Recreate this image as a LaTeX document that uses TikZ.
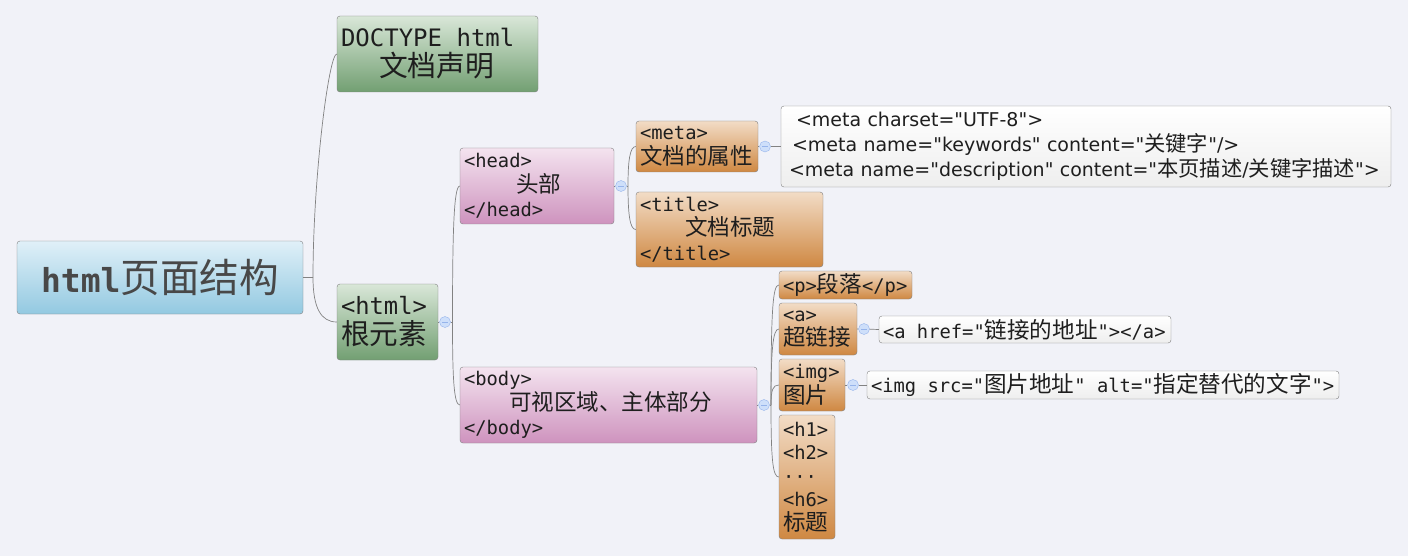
\documentclass[tikz,border=0pt]{standalone}
\usepackage{fontspec}
\setmainfont{DejaVu Sans}
\setmonofont{DejaVu Sans Mono}
\newfontfamily\notefont{DejaVu Sans}
\newfontfamily\cjkfont{Noto Sans CJK SC}[Scale=1.2]
\newfontfamily\cjksmall{Noto Sans CJK SC}[Scale=1.12]
\newcommand{\zh}[1]{{\cjkfont #1}}
\newcommand{\zhn}[1]{{\cjksmall #1}}
\newcommand{\tsp}{\hspace{0.602em}}% 等幅の空白
\definecolor{bg}{RGB}{241,242,248}
\definecolor{edge}{RGB}{128,128,128}
\definecolor{ink}{RGB}{30,30,30}
\definecolor{rootink}{RGB}{72,72,72}
\definecolor{rootT}{RGB}{224,240,248}
\definecolor{rootB}{RGB}{147,201,225}
\definecolor{greenT}{RGB}{217,231,216}
\definecolor{greenB}{RGB}{114,159,114}
\definecolor{pinkT}{RGB}{244,227,239}
\definecolor{pinkB}{RGB}{206,147,190}
\definecolor{orangeT}{RGB}{242,220,198}
\definecolor{orangeB}{RGB}{207,136,66}
\definecolor{noteB}{RGB}{238,238,238}
\definecolor{linkc}{RGB}{130,130,130}
\definecolor{foldF}{RGB}{206,223,250}
\definecolor{foldD}{RGB}{150,180,235}
\tikzset{
  topic/.style={draw=edge, rounded corners=3pt, inner xsep=4pt, inner ysep=0pt,
    align=left, text=ink, font=\ttfamily\fontsize{18.8}{24.5}\selectfont},
  rootbox/.style={topic, top color=rootT, bottom color=rootB, align=center, text=rootink,
    font=\ttfamily\fontsize{33}{36}\selectfont, minimum width=286pt, minimum height=73pt},
  greenbox/.style={topic, top color=greenT, bottom color=greenB},
  pinkbox/.style={topic, top color=pinkT, bottom color=pinkB},
  orangebox/.style={topic, top color=orangeT, bottom color=orangeB},
  notebox/.style={topic, top color=white, bottom color=noteB},
  link/.style={draw=linkc, line width=0.7pt},
  fold/.style={circle, draw=foldD, fill=foldF, minimum size=11pt, inner sep=0pt,
    path picture={\draw[foldD, line width=0.8pt]
      ([xshift=-3pt]path picture bounding box.center) -- ([xshift=3pt]path picture bounding box.center);}},
}
\begin{document}
\begin{tikzpicture}[x=1pt,y=-1pt]
  \fill[bg] (0,0) rectangle (1408,556);
  \useasboundingbox (0,0) rectangle (1408,556);
  % 中心トピック
  \node[rootbox] (root) at (160,277.5) {{\bfseries html}\zh{页面结构}};
  \node[greenbox, font=\ttfamily\fontsize{24}{30}\selectfont, text width=193pt, minimum height=76pt]
    (doctype) at (437.5,54) {DOCTYPE\tsp html\\\hspace*{38pt}\zh{文档声明}};
  \node[greenbox, font=\ttfamily\fontsize{23.8}{30}\selectfont, text width=93pt, minimum height=76pt]
    (html) at (387.5,322) {<html>\\\zh{根元素}};
  % head / body
  \node[pinkbox, text width=146pt, minimum height=76pt] (head) at (537,186)
    {<head>\\\hspace*{52pt}\zh{头部}\\</head>};
  \node[pinkbox, text width=289pt, minimum height=76pt] (body) at (608.5,405)
    {<body>\\\hspace*{45pt}\zh{可视区域、主体部分}\\</body>};
  % headの子
  \node[orangebox, text width=114pt, minimum height=51pt] (meta) at (697,146.5)
    {<meta>\\\zh{文档的属性}};
  \node[orangebox, text width=179pt, minimum height=75pt] (title) at (729.5,229.5)
    {<title>\\\hspace*{45pt}\zh{文档标题}\\</title>};
  \node[notebox, font=\notefont\fontsize{19}{25}\selectfont, text width=600pt, inner xsep=5pt, minimum height=81pt]
    (metanote) at (1086,146.5)
    {\hspace*{10pt}<meta charset="UTF-8">\\
     \hspace*{6pt}<meta name="keywords" content="\zhn{关键字}"/>\\
     \hspace*{3pt}<meta name="description" content="\zhn{本页描述}/\zhn{关键字描述}">};
  % bodyの子
  \node[orangebox, text width=125pt, minimum height=28pt] (para) at (845.5,285) {<p>\zh{段落}</p>};
  \node[orangebox, text width=70pt, minimum height=52pt] (anchor) at (818,329) {<a>\\\zh{超链接}};
  \node[orangebox, text width=58pt, minimum height=52pt] (img) at (812,385) {<img>\\\zh{图片}};
  \node[orangebox, font=\ttfamily\fontsize{18.8}{23.5}\selectfont, text width=48pt, minimum height=124pt]
    (heading) at (807,477) {<h1>\\<h2>\\···\\<h6>\\\zh{标题}};
  \node[notebox, text width=284pt, minimum height=27pt] (anote) at (1025,329.5)
    {<a\tsp href="\zh{链接的地址}"></a>};
  \node[notebox, text width=464pt, minimum height=28pt] (imgnote) at (1103,385)
    {<img\tsp src="\zh{图片地址}"\tsp alt="\zh{指定替代的文字}">};
  % 折りたたみ記号
  \node[fold] (fhtml) at (445,322) {};
  \node[fold] (fhead) at (621,186) {};
  \node[fold] (fmeta) at (765,146.5) {};
  \node[fold] (fbody) at (764,405) {};
  \node[fold] (fanchor) at (864,329) {};
  \node[fold] (fimg) at (853,385) {};
  \coordinate (jroot) at (313,277.5);
  \coordinate (jhtml) at (452.5,322);
  \coordinate (jhead) at (628,186);
  \coordinate (jbody) at (771,405);
  % 接続線
  \draw[link, line width=1pt] (root.east) -- (jroot);
  \draw[link] (jroot) .. controls +(0,-100) and +(-8,0) .. (doctype.west);
  \draw[link] (jroot) .. controls +(0,30) and +(-16,0) .. (html.west);
  \draw[link] (html.east) -- (fhtml) -- (jhtml);
  \draw[link] (jhtml) .. controls +(0,-90) and +(-6,0) .. (head.west);
  \draw[link] (jhtml) .. controls +(0,55) and +(-6,0) .. (body.west);
  \draw[link] (head.east) -- (fhead) -- (jhead);
  \draw[link] (jhead) .. controls +(0,-25) and +(-6,0) .. (meta.west);
  \draw[link] (jhead) .. controls +(0,28) and +(-6,0) .. (title.west);
  \draw[link] (meta.east) -- (fmeta) -- (metanote.west);
  \draw[link] (body.east) -- (fbody) -- (jbody);
  \draw[link] (jbody) .. controls +(0,-95) and +(-6,0) .. (para.west);
  \draw[link] (jbody) .. controls +(0,-55) and +(-6,0) .. (anchor.west);
  \draw[link] (jbody) .. controls +(0,-15) and +(-6,0) .. (img.west);
  \draw[link] (jbody) .. controls +(0,55) and +(-6,0) .. (heading.west);
  \draw[link] (anchor.east) -- (fanchor) -- (anote.west);
  \draw[link] (img.east) -- (fimg) -- (imgnote.west);
\end{tikzpicture}
\end{document}
